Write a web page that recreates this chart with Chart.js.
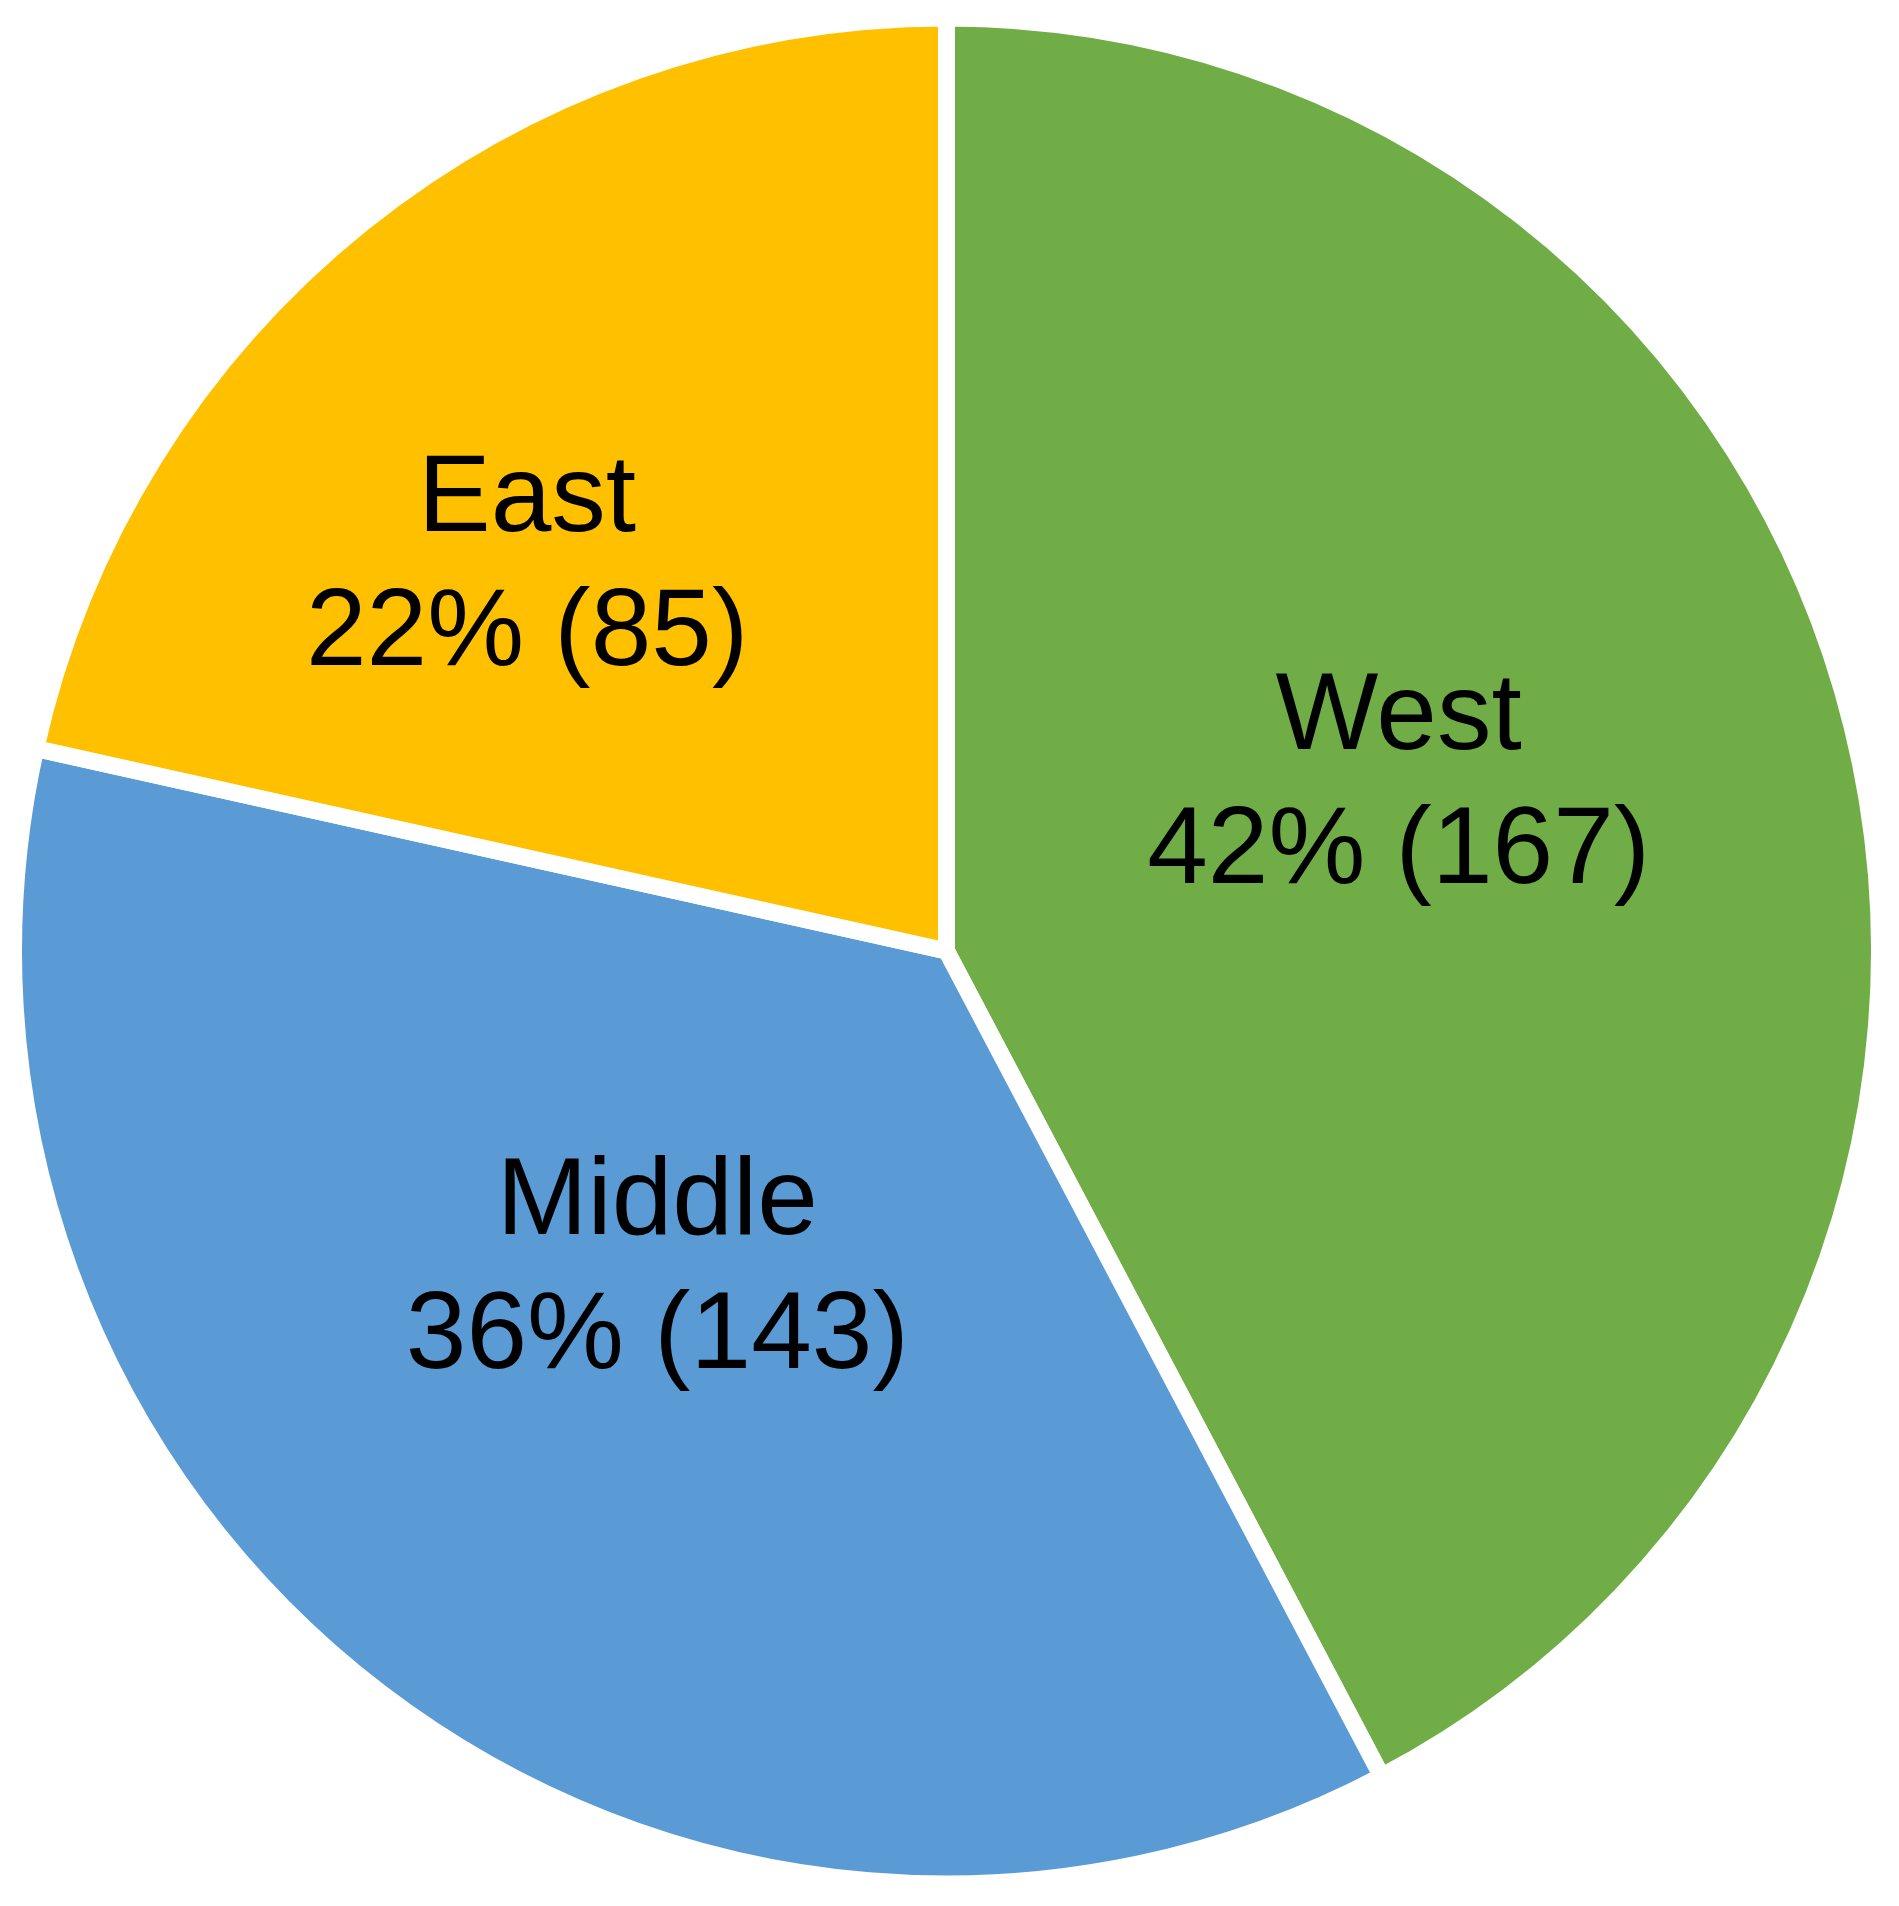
<!DOCTYPE html>
<html>
<head>
<meta charset="utf-8">
<script src="https://cdn.jsdelivr.net/npm/chart.js@4.4.1/dist/chart.umd.min.js"></script>
<style>
  html,body{margin:0;padding:0;background:#fff;}
  #wrap{width:1899px;height:1906px;}
</style>
</head>
<body>
<div id="wrap"><canvas id="pie" width="1899" height="1906"></canvas></div>
<script>
const regions = ['West', 'Middle', 'East'];
const counts = [167, 143, 85];
const sliceColors = ['#70AD47', '#5B9BD5', '#FFC000'];

// where each label sits inside its slice: fraction of radius + angle nudge (deg)
const labelPlace = [
  {frac:.524, shift:-7.15},
  {frac:.459, shift:5.6},
  {frac:.621, shift:-8.2}
];

const GAP = 17;
const total = counts.reduce((a,b)=>a+b,0);

const sliceLabels = {
  id:'sliceLabels',
  afterDatasetsDraw(chart){
    const ctx = chart.ctx;
    const fs = 109;
    const cap = fs*0.716, lh = 134;
    ctx.save();
    ctx.fillStyle = '#000';
    ctx.font = fs + 'px "Liberation Sans", Arial, sans-serif';
    ctx.textAlign = 'center';
    ctx.textBaseline = 'alphabetic';
    chart.getDatasetMeta(0).data.forEach((arc,i)=>{
      const p = arc.getProps(['x','y','startAngle','endAngle','outerRadius'], true);
      const r = p.outerRadius - GAP/2;
      const a = (p.startAngle + p.endAngle)/2 + labelPlace[i].shift*Math.PI/180;
      const cx = p.x + Math.cos(a)*r*labelPlace[i].frac;
      const cy = p.y + Math.sin(a)*r*labelPlace[i].frac;
      const top = cy - (cap + lh)/2;
      const pct = Math.round(counts[i]/total*100);
      ctx.fillText(regions[i], cx, top + cap);
      ctx.fillText(pct + '% (' + counts[i] + ')', cx, top + cap + lh);
    });
    ctx.restore();
  }
};

new Chart(document.getElementById('pie'), {
  type:'pie',
  data:{
    labels:regions,
    datasets:[{
      data:counts,
      backgroundColor:sliceColors,
      borderColor:'#ffffff',
      borderWidth:GAP,
      hoverOffset:0
    }]
  },
  options:{
    responsive:false,
    animation:false,
    layout:{padding:{left:5, right:11, top:9, bottom:13}},
    plugins:{
      legend:{display:false},
      tooltip:{enabled:false}
    }
  },
  plugins:[sliceLabels]
});
</script>
</body>
</html>
